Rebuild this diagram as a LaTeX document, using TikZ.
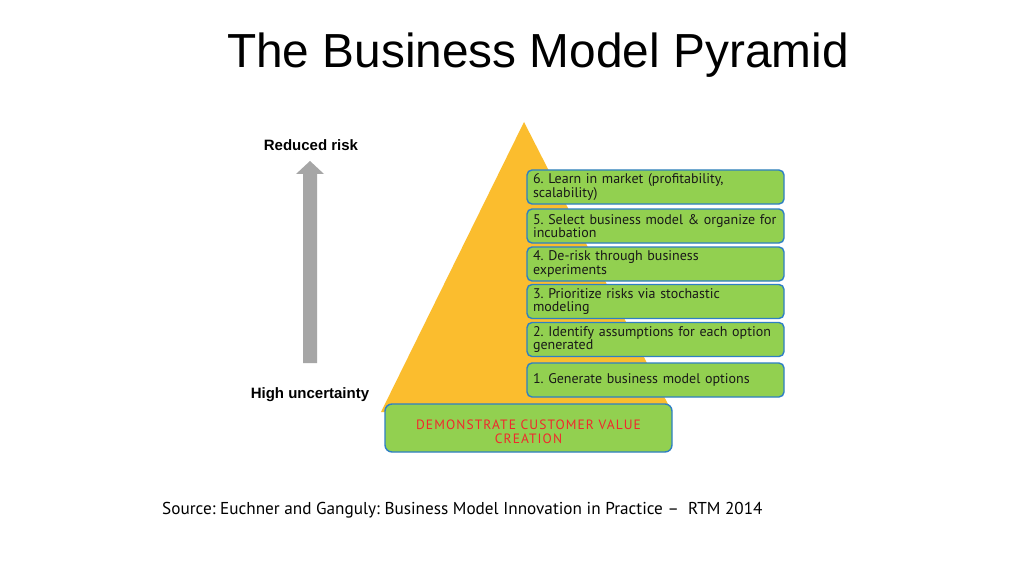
\documentclass[tikz,border=0pt]{standalone}
\usepackage{fontspec}
\setmainfont{Liberation Sans}
\newfontfamily\boxfont{PT Sans}
\definecolor{pyr}{HTML}{FBBD2E}
\definecolor{stepgreen}{HTML}{92D050}
\definecolor{stepblue}{HTML}{2E7FC4}
\definecolor{arrowgray}{HTML}{A6A6A6}
\definecolor{demored}{HTML}{F0282D}
\frenchspacing
\begin{document}
\begin{tikzpicture}[x=1pt,y=-1pt,
  stepbox/.style={draw=stepblue, line width=1.4pt, fill=stepgreen, rounded corners=5pt,
    minimum width=257pt, minimum height=34pt, text width=245pt, align=left,
    inner sep=0pt, font=\boxfont\fontsize{14}{13.5}\selectfont, text=black!90},
  sidelabel/.style={font=\bfseries\fontsize{15}{17}\selectfont}]
\useasboundingbox (0,0) rectangle (1024,572);
\fill[white] (0,0) rectangle (1024,572);
% title
\node[font=\fontsize{47.8}{50}\selectfont, anchor=base] (title) at (538,68) {The Business Model Pyramid};
% pyramid
\fill[pyr] (524,122) -- (672,412) -- (381,412) -- cycle;
% arrow
\fill[arrowgray] (303,363) -- (303,174) -- (296,174) -- (310,161) -- (324,174) -- (317,174) -- (317,363) -- cycle;
\node[sidelabel, anchor=base] (reduced) at (311,151) {Reduced risk};
\node[sidelabel, anchor=base] (high) at (310,398) {High uncertainty};
% steps
\node[stepbox] (s6) at (655.5,187) {6. Learn in market (profitability,\\scalability)};
\node[stepbox] (s5) at (655.5,226) {5. Select business model \& organize for\\incubation};
\node[stepbox] (s4) at (655.5,264) {4. De-risk through business\\experiments};
\node[stepbox] (s3) at (655.5,301.5) {3. Prioritize risks via stochastic\\modeling};
\node[stepbox] (s2) at (655.5,339.5) {2. Identify assumptions for each option\\generated};
\node[stepbox] (s1) at (655.5,380) {1. Generate business model options};
% base
\node[draw=stepblue, line width=1.4pt, fill=stepgreen, rounded corners=7pt,
  minimum width=287pt, minimum height=48pt, inner sep=0pt] (base) at (528.5,428) {};
\node[align=center, inner sep=0pt,
  font=\boxfont\fontsize{13.5}{14}\selectfont\addfontfeature{LetterSpace=8}, text=demored]
  (basetext) at ([yshift=-3.5pt]base.center) {DEMONSTRATE CUSTOMER VALUE\\CREATION};
% source
\node[font=\boxfont\fontsize{17.2}{19}\selectfont, anchor=base west, inner sep=0pt] (src) at (162,514)
  {Source: Euchner and Ganguly: Business Model Innovation in Practice –\ \ RTM 2014};
\end{tikzpicture}
\end{document}
